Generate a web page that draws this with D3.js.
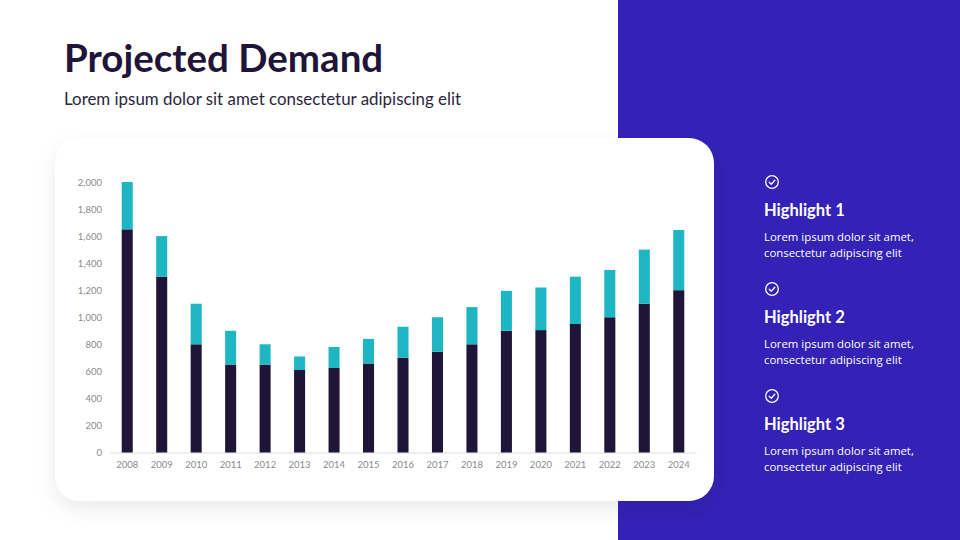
<!DOCTYPE html>
<html>
<head>
<meta charset="utf-8">
<script src="https://cdn.jsdelivr.net/npm/d3@7"></script>
<style>
  body { margin: 0; background: #fff; }
  svg { display: block; }
</style>
</head>
<body>
<div id="chart"></div>
<script>
// chart data
var years = ["2008", "2009", "2010", "2011", "2012", "2013", "2014", "2015", "2016",
             "2017", "2018", "2019", "2020", "2021", "2022", "2023", "2024"];
var baseValues = [1650, 1300, 800, 650, 650, 610, 625, 658, 700, 745, 800, 900, 905, 950, 1000, 1100, 1200];
var extraValues = [350, 300, 300, 250, 150, 100, 155, 182, 230, 255, 275, 295, 315, 350, 350, 400, 445];
var yTicks = [0, 200, 400, 600, 800, 1000, 1200, 1400, 1600, 1800, 2000];
var highlights = ["Highlight 1", "Highlight 2", "Highlight 3"];

var svgWidth = 960;
var svgHeight = 540;

var svg = d3.select("#chart")
  .append("svg")
  .attr("width", svgWidth)
  .attr("height", svgHeight);

var defs = svg.append("defs");
var shadow = defs.append("filter")
  .attr("id", "shadow")
  .attr("x", "-20%").attr("y", "-20%")
  .attr("width", "140%").attr("height", "150%");
shadow.append("feDropShadow")
  .attr("dx", 0)
  .attr("dy", 8)
  .attr("stdDeviation", 10)
  .attr("flood-color", "#000")
  .attr("flood-opacity", 0.08);

// right purple panel
svg.append("rect")
  .attr("x", 618)
  .attr("y", 0)
  .attr("width", svgWidth - 618)
  .attr("height", svgHeight)
  .attr("fill", "#3421b6");

// title
svg.append("text")
  .attr("x", 64)
  .attr("y", 72)
  .style("font-family", "Lato, sans-serif")
  .style("font-weight", "700")
  .style("font-size", "38.5px")
  .attr("fill", "#1e1539")
  .text("Projected Demand");

svg.append("text")
  .attr("x", 64)
  .attr("y", 105)
  .style("font-family", "Lato, sans-serif")
  .style("font-size", "16.9px")
  .attr("fill", "#2b2640")
  .text("Lorem ipsum dolor sit amet consectetur adipiscing elit");

// card
svg.append("rect")
  .attr("x", 55)
  .attr("y", 138)
  .attr("width", 659)
  .attr("height", 363)
  .attr("rx", 25)
  .attr("fill", "#fff")
  .attr("filter", "url(#shadow)");

// chart area
var margin = { top: 182, left: 110 };
var width = 586;
var height = 270.5;

var chartGroup = svg.append("g")
  .attr("transform", `translate(${margin.left}, ${margin.top})`);

var xScale = d3.scaleBand()
  .domain(years)
  .range([0, width])
  .paddingInner(0.68)
  .paddingOuter(0.34);

var yScale = d3.scaleLinear()
  .domain([0, 2000])
  .range([height, 0]);

var stacked = years.map(function(y, i) {
  return { year: y, base: baseValues[i], extra: extraValues[i] };
});

// y axis labels only
var yAxis = d3.axisLeft(yScale)
  .tickValues(yTicks)
  .tickFormat(d3.format(","))
  .tickSize(0)
  .tickPadding(8);

var yG = chartGroup.append("g")
  .call(yAxis);
yG.select(".domain").remove();
yG.selectAll("text")
  .style("font-family", "Lato, sans-serif")
  .style("font-size", "9.5px")
  .attr("fill", "#8a8a8a");

// x axis
var xAxis = d3.axisBottom(xScale)
  .tickSize(0)
  .tickPadding(9);

var xG = chartGroup.append("g")
  .attr("transform", `translate(0, ${height})`)
  .call(xAxis);
xG.select(".domain").attr("stroke", "#dcdcdc");
xG.selectAll("text")
  .style("font-family", "Lato, sans-serif")
  .style("font-size", "9.5px")
  .attr("fill", "#8a8a8a");

// bars
chartGroup.selectAll(".base")
  .data(stacked)
  .enter()
  .append("rect")
  .attr("class", "base")
  .attr("x", d => xScale(d.year))
  .attr("width", xScale.bandwidth())
  .attr("y", d => yScale(d.base))
  .attr("height", d => height - yScale(d.base))
  .attr("fill", "#1e1539");

chartGroup.selectAll(".extra")
  .data(stacked)
  .enter()
  .append("rect")
  .attr("class", "extra")
  .attr("x", d => xScale(d.year))
  .attr("width", xScale.bandwidth())
  .attr("y", d => yScale(d.base + d.extra))
  .attr("height", d => yScale(d.base) - yScale(d.base + d.extra))
  .attr("fill", "#1eb6c3");

// highlights on the right
var hl = svg.selectAll(".hl")
  .data(highlights)
  .enter()
  .append("g")
  .attr("class", "hl")
  .attr("transform", (d, i) => `translate(764, ${182 + i * 107})`);

hl.append("circle")
  .attr("cx", 8)
  .attr("cy", 0)
  .attr("r", 6.3)
  .attr("fill", "none")
  .attr("stroke", "#fff")
  .attr("stroke-width", 1.3);

hl.append("path")
  .attr("d", "M5.2,0.2 L7.3,2.2 L10.8,-1.7")
  .attr("fill", "none")
  .attr("stroke", "#fff")
  .attr("stroke-width", 1.3)
  .attr("stroke-linecap", "round")
  .attr("stroke-linejoin", "round");

hl.append("text")
  .attr("x", 0)
  .attr("y", 34)
  .style("font-family", "Lato, sans-serif")
  .style("font-weight", "700")
  .style("font-size", "16.5px")
  .attr("fill", "#fff")
  .text(d => d);

hl.append("text")
  .attr("x", 0)
  .attr("y", 59)
  .style("font-family", "'Open Sans', sans-serif")
  .style("font-size", "11.4px")
  .attr("fill", "#fff")
  .text("Lorem ipsum dolor sit amet,");

hl.append("text")
  .attr("x", 0)
  .attr("y", 75)
  .style("font-family", "'Open Sans', sans-serif")
  .style("font-size", "11.4px")
  .attr("fill", "#fff")
  .text("consectetur adipiscing elit");
</script>
</body>
</html>
